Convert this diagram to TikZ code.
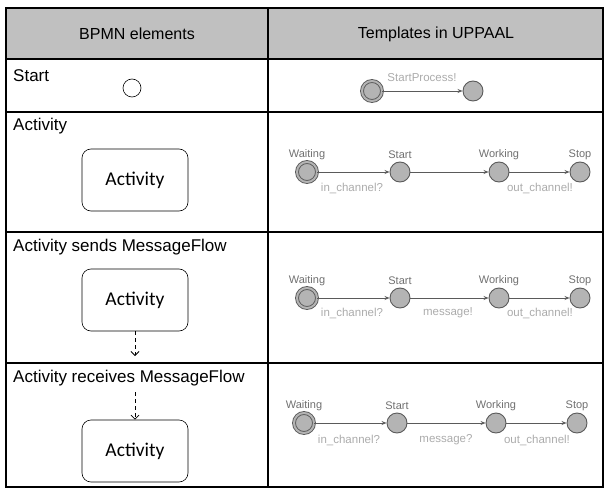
\documentclass[tikz,border=0pt]{standalone}
\usepackage{fontspec}
\setmainfont{Liberation Sans}
\newfontfamily\boxfont{Carlito}
\usetikzlibrary{arrows.meta}
\definecolor{hdrgray}{HTML}{C0C0C0}
\definecolor{stfill}{HTML}{B4B4B4}
\definecolor{stline}{HTML}{5A5A5A}
\definecolor{stname}{HTML}{707070}
\definecolor{edgelbl}{HTML}{ABABAB}
\tikzset{
  grid/.style={line width=1.2pt, black},
  hdrtext/.style={font=\fontsize{16}{18}\selectfont},
  rowlabel/.style={anchor=west, font=\fontsize{17}{19}\selectfont, inner sep=0pt},
  bpmnbox/.style={draw, rounded corners=9pt, minimum width=106pt, minimum height=62pt, line width=0.6pt, font=\boxfont\fontsize{19.5}{22}\selectfont},
  bpmnstart/.style={draw, circle, minimum size=18pt, inner sep=0pt, line width=0.6pt},
  msgflow/.style={dashed, dash pattern=on 4pt off 3pt, line width=0.8pt, -{Straight Barb[length=4pt,width=8pt]}},
  ustate/.style={circle, draw=stline, fill=stfill, line width=0.9pt, minimum size=20pt, inner sep=0pt},
  uinit/.style={ustate, double=stfill, double distance=2pt},
  uedge/.style={draw=stline, line width=0.9pt, -{Stealth[length=5pt,width=4pt]}},
  uname/.style={text=stname, font=\fontsize{11}{12}\selectfont, inner sep=0pt},
  ulbl/.style={text=edgelbl, font=\fontsize{11.5}{13}\selectfont, inner sep=0pt},
}
\begin{document}
\begin{tikzpicture}[x=1pt,y=-1pt]
\useasboundingbox (0,0) rectangle (607,489);
% header
\fill[hdrgray] (6,8) rectangle (603,59);
\node[hdrtext] (h1) at (137,34) {BPMN elements};
\node[hdrtext] (h2) at (436,34) {Templates in UPPAAL};
% grid
\draw[grid] (6,8) rectangle (603,487);
\draw[grid] (268,8) -- (268,487);
\draw[grid] (6,59) -- (603,59);
\draw[grid] (6,112) -- (603,112);
\draw[grid] (6,232) -- (603,232);
\draw[grid] (6,363) -- (603,363);

% ---- Row 1: Start
\node[rowlabel] (l1) at (13,76) {Start};
\node[bpmnstart] (bs) at (132,88) {};
\node[uinit] (s0) at (372,91) {};
\node[ustate] (s1) at (473,91) {};
\draw[uedge] (s0) -- (s1);
\node[ulbl] (e1) at (422,78) {StartProcess!};

% ---- Row 2: Activity
\node[rowlabel] (l2) at (13,126) {Activity};
\node[bpmnbox] (b2) at (135,180) {Activity};
\node[uinit] (a0) at (307,172) {};
\node[ustate] (a1) at (400,172) {};
\node[ustate] (a2) at (499,172) {};
\node[ustate] (a3) at (580,172) {};
\draw[uedge] (a0) -- (a1);
\draw[uedge] (a1) -- (a2);
\draw[uedge] (a2) -- (a3);
\node[uname] (an0) at (307,155) {Waiting};
\node[uname] (an1) at (400,155) {Start};
\node[uname] (an2) at (499,155) {Working};
\node[uname] (an3) at (580,155) {Stop};
\node[ulbl] (ae0) at (352,188) {in\_channel?};
\node[ulbl] (ae2) at (540,188) {out\_channel!};

% ---- Row 3: Activity sends MessageFlow
\node[rowlabel] (l3) at (13,247) {Activity sends MessageFlow};
\node[bpmnbox] (b3) at (135,300) {Activity};
\coordinate (m3) at (135,356);
\draw[msgflow] (b3.south) -- (m3);
\node[uinit] (c0) at (307,298) {};
\node[ustate] (c1) at (400,298) {};
\node[ustate] (c2) at (499,298) {};
\node[ustate] (c3) at (580,298) {};
\draw[uedge] (c0) -- (c1);
\draw[uedge] (c1) -- (c2);
\draw[uedge] (c2) -- (c3);
\node[uname] (cn0) at (307,281) {Waiting};
\node[uname] (cn1) at (400,281) {Start};
\node[uname] (cn2) at (499,281) {Working};
\node[uname] (cn3) at (580,281) {Stop};
\node[ulbl] (ce0) at (352,313) {in\_channel?};
\node[ulbl] (ce1) at (448,313) {message!};
\node[ulbl] (ce2) at (540,313) {out\_channel!};

% ---- Row 4: Activity receives MessageFlow
\node[rowlabel] (l4) at (13,378) {Activity receives MessageFlow};
\node[bpmnbox] (b4) at (135,451) {Activity};
\coordinate (m4) at (135,392);
\draw[msgflow] (m4) -- (b4.north);
\node[uinit] (d0) at (304,423) {};
\node[ustate] (d1) at (397,423) {};
\node[ustate] (d2) at (496,423) {};
\node[ustate] (d3) at (577,423) {};
\draw[uedge] (d0) -- (d1);
\draw[uedge] (d1) -- (d2);
\draw[uedge] (d2) -- (d3);
\node[uname] (dn0) at (304,406) {Waiting};
\node[uname] (dn1) at (397,406) {Start};
\node[uname] (dn2) at (496,406) {Working};
\node[uname] (dn3) at (577,406) {Stop};
\node[ulbl] (de0) at (349,440) {in\_channel?};
\node[ulbl] (de1) at (446,440) {message?};
\node[ulbl] (de2) at (537,440) {out\_channel!};
\end{tikzpicture}
\end{document}
